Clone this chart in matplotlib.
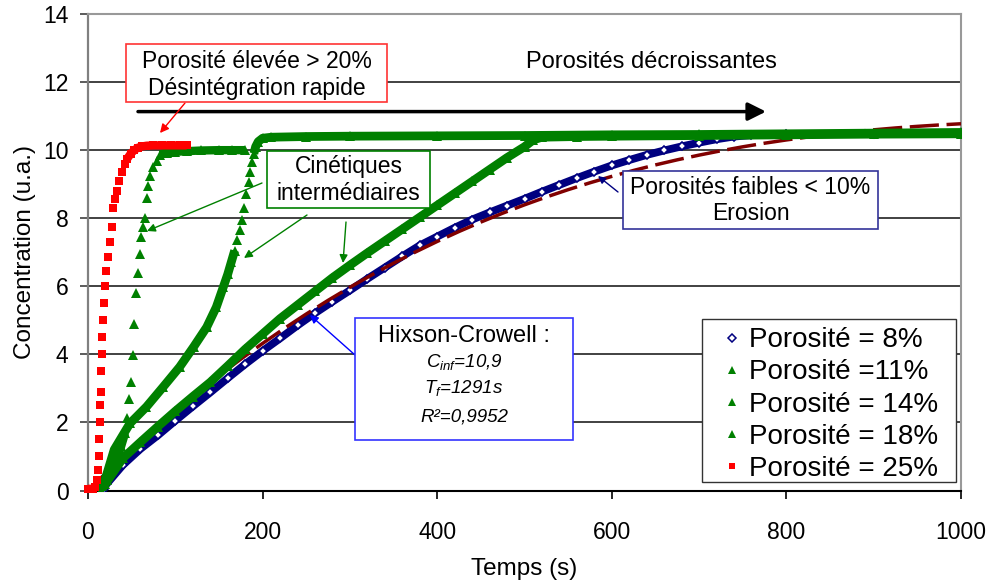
import matplotlib
matplotlib.use('Agg')
import matplotlib.pyplot as plt
import numpy as np
from matplotlib.patches import Rectangle
from matplotlib.lines import Line2D

plt.rcParams['font.family'] = ['Liberation Sans', 'DejaVu Sans']
plt.rcParams['mathtext.fontset'] = 'custom'
plt.rcParams['mathtext.it'] = 'Liberation Sans:italic'
plt.rcParams['mathtext.rm'] = 'Liberation Sans'

# ---------------- data ----------------
labels = ["Porosité = 8%", "Porosité =11%", "Porosité = 14%",
          "Porosité = 18%", "Porosité = 25%"]

t_8 = [18, 20, 40, 60, 80, 100, 120, 140, 160, 180, 200, 220, 240, 260, 280,
       300, 320, 340, 360, 380, 400, 420, 440, 460, 480, 500, 520, 540, 560,
       580, 600, 620, 640, 660, 680, 700, 720, 740, 760, 800, 900, 1000]
c_8 = [0.05, 0.15, 0.75, 1.22, 1.62, 2.05, 2.47, 2.88, 3.30, 3.71, 4.10, 4.47,
       4.85, 5.21, 5.55, 5.88, 6.22, 6.55, 6.88, 7.20, 7.46, 7.72, 7.96, 8.17,
       8.37, 8.57, 8.78, 8.98, 9.18, 9.37, 9.55, 9.71, 9.86, 9.99, 10.11, 10.22,
       10.32, 10.40, 10.44, 10.46, 10.48, 10.5]

t_11 = [15, 20, 40, 60, 80, 100, 120, 140, 160, 180, 200, 220, 240, 260, 280,
        300, 320, 340, 360, 380, 400, 420, 440, 460, 480, 500, 510, 520, 560,
        600, 700, 800, 900, 1000]
c_11 = [0.0, 0.2, 0.95, 1.42, 1.88, 2.33, 2.76, 3.18, 3.66, 4.15, 4.6, 5.05,
        5.45, 5.85, 6.25, 6.62, 6.98, 7.33, 7.68, 8.03, 8.38, 8.73, 9.08, 9.43,
        9.78, 10.1, 10.3, 10.38, 10.4, 10.41, 10.43, 10.45, 10.47, 10.48]

t_14 = [15, 20, 30, 48, 67, 86, 105, 121, 136, 147, 155, 160, 164, 168, 171,
        174, 176.5, 179, 181.5, 184, 186, 188, 190, 192, 195, 200, 210, 250,
        300, 400, 500, 600, 700, 800, 900, 1000]
c_14 = [0.0, 0.35, 1.2, 1.97, 2.46, 3.04, 3.63, 4.22, 4.8, 5.39, 5.98, 6.35,
        6.7, 7.05, 7.35, 7.65, 7.95, 8.3, 8.7, 9.05, 9.35, 9.65, 9.9, 10.1,
        10.25, 10.35, 10.38, 10.4, 10.41, 10.42, 10.43, 10.45, 10.46, 10.48,
        10.5, 10.52]

t_18 = [15, 22, 28, 33, 38, 42.4, 45, 47, 49, 51, 53, 55, 57, 59, 61, 62.6,
        65.3, 67.2, 69, 71, 74.8, 78.7, 82.5, 90, 100, 113, 130, 150, 165, 180]
c_18 = [0.0, 0.3, 0.6, 0.9, 1.3, 1.68, 2.12, 2.7, 3.19, 3.97, 4.9, 5.8, 6.39,
        6.96, 7.46, 7.74, 8.0, 8.6, 8.96, 9.25, 9.5, 9.69, 9.87, 9.93, 9.95,
        9.97, 9.99, 10.0, 10.0, 10.0]

t_25 = [0, 3, 6, 8, 10, 11.5, 12.3, 12.8, 13.3, 14, 14.5, 15.2, 15.8, 16.5,
        17.3, 18.3, 19.5, 21, 23, 25, 27, 29, 31, 33, 36, 39, 42, 45, 49, 53,
        57, 62, 67, 75, 85, 95, 105, 113]
c_25 = [0.05, 0.05, 0.05, 0.1, 0.3, 0.6, 1.0, 1.5, 2.0, 2.5, 2.9, 3.5, 4.0,
        4.5, 5.0, 5.5, 6.0, 6.45, 6.85, 7.3, 7.75, 8.3, 8.55, 8.8, 9.1, 9.35,
        9.6, 9.75, 9.9, 10.0, 10.07, 10.11, 10.13, 10.14, 10.14, 10.14, 10.14,
        10.14]

# Hixson-Crowell fitted curve (Cinf = 10.9, Tf = 1291 s)
t_hc = [0, 25, 50, 75, 100, 125, 150, 175, 200, 225, 250, 275, 300, 325, 350,
        375, 400, 425, 450, 475, 500, 525, 550, 575, 600, 625, 650, 675, 700,
        725, 750, 775, 800, 825, 850, 875, 900, 925, 950, 975, 1000]
c_hc = [0.0, 0.621, 1.218, 1.791, 2.342, 2.870, 3.375, 3.859, 4.322, 4.764,
        5.185, 5.587, 5.970, 6.334, 6.679, 7.007, 7.317, 7.610, 7.887, 8.148,
        8.393, 8.623, 8.839, 9.041, 9.229, 9.404, 9.566, 9.716, 9.854, 9.981,
        10.098, 10.204, 10.300, 10.387, 10.466, 10.535, 10.597, 10.652, 10.699,
        10.740, 10.775]

x_ticks = [0, 200, 400, 600, 800, 1000]
y_ticks = [0, 2, 4, 6, 8, 10, 12, 14]

# ---------------- styles ----------------
NAVY = '#000080'
GREEN = '#008000'
RED = '#FF0000'
DRED = '#800000'

W, H = 989, 583
fig = plt.figure(figsize=(W / 100, H / 100), dpi=100)
X0, X1, Y0, Y1 = 88, 961, 490.5, 14
ax = fig.add_axes([X0 / W, 1 - Y0 / H, (X1 - X0) / W, (Y0 - Y1) / H])
ax.set_xlim(0, 1000)
ax.set_ylim(0, 14)


def P(px, py):
    """reference pixel -> data coordinates (for annotation placement)"""
    return ((px - X0) / (X1 - X0) * 1000, (Y0 - py) / (Y0 - Y1) * 14)


def A(px, py):
    """reference pixel -> axes fraction"""
    return ((px - X0) / (X1 - X0), (Y0 - py) / (Y0 - Y1))


def draw_series(t, c, windows, color, marker, ms, lw, mfc=None, mec=None,
                mew=0, z=3, clip=True):
    t = np.asarray(t, float)
    c = np.asarray(c, float)
    for a, b in windows:
        m = (t >= a) & (t <= b)
        ax.plot(t[m], c[m], '-', color=color, lw=lw, zorder=z,
                solid_capstyle='butt', clip_on=clip)
    ax.plot(t, c, ls='none', marker=marker, ms=ms,
            mfc=mfc if mfc else color, mec=mec if mec else color, mew=mew,
            zorder=z + 0.1, clip_on=clip)


# 8 %
draw_series(t_8, c_8, [(0, 1000)], NAVY, 'D', 3.8, 5.6, mfc='white',
            mec=NAVY, mew=1.2, z=3)
# Hixson-Crowell
ax.plot(t_hc, c_hc, color=DRED, lw=2.5, dashes=(8.4, 2.2), zorder=3.5,
        solid_capstyle='butt', dash_capstyle='butt')
# 11 %
draw_series(t_11, c_11, [(0, 1000)], GREEN, '^', 6.5, 6.3, z=4)
# 14 %
draw_series(t_14, c_14, [(0, 168), (190, 1000)], GREEN, '^', 6.5, 6.3, z=4.2)
# 18 %
draw_series(t_18, c_18, [(0, 42.4), (80, 1000)], GREEN, '^', 6.5, 6.0, z=4.4)
# 25 %
draw_series(t_25, c_25, [(0, 8), (45, 1000)], RED, 's', 5.6, 6.0, z=4.6,
            clip=False)

# ---------------- axes styling ----------------
ax.set_xticks(x_ticks)
ax.set_yticks(y_ticks)
ax.set_xticklabels([str(v) for v in x_ticks])
ax.set_yticklabels([str(v) for v in y_ticks])
ax.tick_params(axis='x', direction='out', length=6, width=1.2, labelsize=16.5,
               pad=16, color='black')
ax.tick_params(axis='y', direction='out', length=6, width=1.2, labelsize=16.5,
               pad=8, color='#404040')
ax.yaxis.grid(True, color='#333333', lw=1.3)
ax.xaxis.grid(False)
ax.set_axisbelow(True)
for s in ('top', 'right'):
    ax.spines[s].set_color('#999999')
    ax.spines[s].set_linewidth(1.5)
ax.spines['left'].set_color('#808080')
ax.spines['left'].set_linewidth(1.6)
ax.spines['bottom'].set_color('black')
ax.spines['bottom'].set_linewidth(1.5)
for s in ax.spines.values():
    s.set_zorder(2.6)

ax.set_xlabel('Temps (s)', fontsize=17.5, labelpad=10)
ax.set_ylabel('Concentration (u.a.)', fontsize=17.5, labelpad=5)

# ---------------- annotations ----------------


def box(px0, py0, px1, py1, ec, lw=1.2, z=8):
    xa, ya = P(px0, py1)
    xb, yb = P(px1, py0)
    ax.add_patch(Rectangle((xa, ya), xb - xa, yb - ya, facecolor='white',
                           edgecolor=ec, lw=lw, zorder=z))


def txt(px, py, s, size=16.5, **kw):
    x, y = P(px, py)
    ax.text(x, y, s, ha='center', va='center', fontsize=size, zorder=9, **kw)


def arrow(tail, tip, color, lw=1.0, ms=12):
    ax.annotate('', xy=P(*tip), xytext=P(*tail),
                arrowprops=dict(arrowstyle='-|>', color=color, lw=lw,
                                mutation_scale=ms, shrinkA=0, shrinkB=0),
                zorder=7)


# big "decreasing porosity" arrow
arrow((138, 111.6), (766, 111.6), 'black', lw=2.5, ms=27)
txt(651, 62, 'Porosités décroissantes', size=17)

# red box
box(126, 44, 387, 102, '#FF3333')
txt(256.5, 61, 'Porosité élevée > 20%')
txt(256.5, 88, 'Désintégration rapide')
arrow((185, 103), (160, 133), RED, lw=1.0, ms=13)

# green box
box(267, 151, 430, 208, GREEN)
txt(348.5, 166.5, 'Cinétiques')
txt(348.5, 193.5, 'intermédiaires')
arrow((262, 183), (147, 231), GREEN, lw=1.0, ms=12)
arrow((307, 215), (244, 258), GREEN, lw=1.0, ms=12)
arrow((346, 222), (343, 263), GREEN, lw=1.0, ms=12)

# navy box
box(623, 171, 878, 229, '#333399')
txt(750.5, 187.5, 'Porosités faibles < 10%')
txt(750.5, 213, 'Erosion')
arrow((618, 192), (598, 176), NAVY, lw=1.0, ms=11)

# Hixson-Crowell box
box(355, 318, 573, 440, '#3333FF')
txt(464, 336.5, 'Hixson-Crowell :', size=17)
txt(464, 361.5, r'$C_{inf}$=10,9', size=13.5, style='italic')
txt(464, 387.5, r'$T_{f}$=1291s', size=13.5, style='italic')
txt(464, 417, 'R²=0,9952', size=13.5, style='italic')
arrow((355, 355), (310, 315), '#0000FF', lw=1.0, ms=12)

# ---------------- legend ----------------
box(702, 319, 956, 482, '#333333', lw=1.0, z=9.5)
handles = [
    Line2D([], [], ls='none', marker='D', ms=4, mfc='white', mec=NAVY, mew=1.1),
    Line2D([], [], ls='none', marker='^', ms=5.5, color=GREEN, mew=0),
    Line2D([], [], ls='none', marker='^', ms=5.5, color=GREEN, mew=0),
    Line2D([], [], ls='none', marker='^', ms=5.5, color=GREEN, mew=0),
    Line2D([], [], ls='none', marker='s', ms=5, color=RED, mew=0),
]
leg = ax.legend(handles, labels, loc='upper left', bbox_to_anchor=A(702, 322),
                borderaxespad=0, fontsize=20, frameon=False,
                handlelength=1.78, handletextpad=-0.28, labelspacing=0.22,
                borderpad=0.19)
leg.set_zorder(10)

fig.savefig('out.png', dpi=100)
